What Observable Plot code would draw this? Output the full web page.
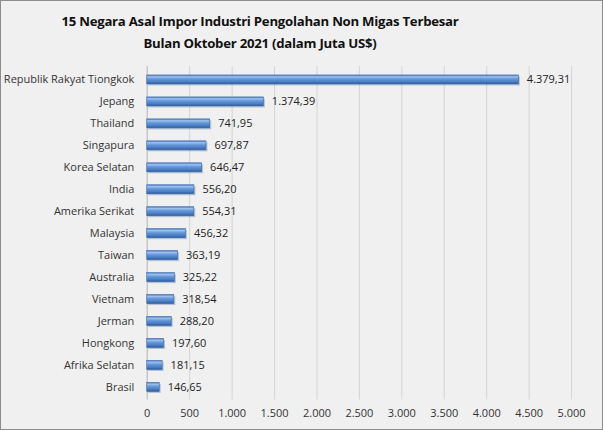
<!DOCTYPE html>
<html><head><meta charset="utf-8">
<script src="https://cdn.jsdelivr.net/npm/d3@7"></script>
<script src="https://cdn.jsdelivr.net/npm/@observablehq/plot@0.6"></script>
<style>
html,body{margin:0;padding:0;background:#fff;}
#wrap{position:relative;width:601px;height:428px;background:#f0f0f0;border:1px solid #8c8c8c;overflow:hidden;font-family:"Open Sans",sans-serif;}
#title{position:absolute;left:0;top:9px;width:518px;text-align:center;font-weight:bold;font-size:13.2px;line-height:22px;color:#111;letter-spacing:-0.25px;}
#chart{position:absolute;left:-1px;top:51px;}
</style></head>
<body><div id="wrap"><div id="title">15 Negara Asal Impor Industri Pengolahan Non Migas Terbesar<br>Bulan Oktober 2021 (dalam Juta US$)</div><div id="chart"></div></div>
<script>
const countries = ["Republik Rakyat Tiongkok","Jepang","Thailand","Singapura","Korea Selatan","India","Amerika Serikat","Malaysia","Taiwan","Australia","Vietnam","Jerman","Hongkong","Afrika Selatan","Brasil"];
const values = [4379.31,1374.39,741.95,697.87,646.47,556.20,554.31,456.32,363.19,325.22,318.54,288.20,197.60,181.15,146.65];
const xTicks = [0,500,1000,1500,2000,2500,3000,3500,4000,4500,5000];

const loc = d3.formatLocale({decimal:",",thousands:".",grouping:[3],currency:["",""]});
const fVal = loc.format(",.2f");
const fTick = loc.format(",d");
const data = countries.map((c,i)=>({country:c,value:values[i]}));

const chart = Plot.plot({
  width: 603, height: 378,
  marginTop: 14, marginBottom: 30, marginLeft: 147, marginRight: 31,
  style: {background:"transparent", fontFamily:"'Open Sans', sans-serif", fontSize:"11px", color:"#333"},
  x: {domain:[0,5000], ticks:xTicks, tickFormat:fTick, label:null, tickSize:0, tickPadding:9},
  y: {domain:countries, label:null, tickSize:0, tickPadding:13, paddingInner:0.6, paddingOuter:0.3},
  marks: [
    Plot.gridX(xTicks, {stroke:"#d4d4d4", strokeOpacity:1}),
    Plot.ruleX([0], {stroke:"#bdbdbd"}),
    Plot.barX(data, {y:"country", x:"value", fill:"#2a5590", dx:1.5, dy:1.5, fillOpacity:0.3}),
    Plot.barX(data, {y:"country", x:"value", fill:"url(#barGrad)", stroke:"#3a68a8", strokeWidth:0.6}),
    Plot.text(data, {y:"country", x:"value", text:d=>fVal(d.value), textAnchor:"start", dx:8, fill:"#222", fontSize:11})
  ]
});
const ns = "http://www.w3.org/2000/svg";
const defs = document.createElementNS(ns,"defs");
defs.innerHTML = `<linearGradient id="barGrad" x1="0" y1="0" x2="0" y2="1">
<stop offset="0" stop-color="#4a7bbf"/><stop offset="0.2" stop-color="#9cc0ee"/><stop offset="0.45" stop-color="#6497d8"/>
<stop offset="0.75" stop-color="#4a7fc3"/><stop offset="1" stop-color="#2b5896"/></linearGradient>`;
chart.insertBefore(defs, chart.firstChild);
document.getElementById("chart").appendChild(chart);
</script></body></html>
